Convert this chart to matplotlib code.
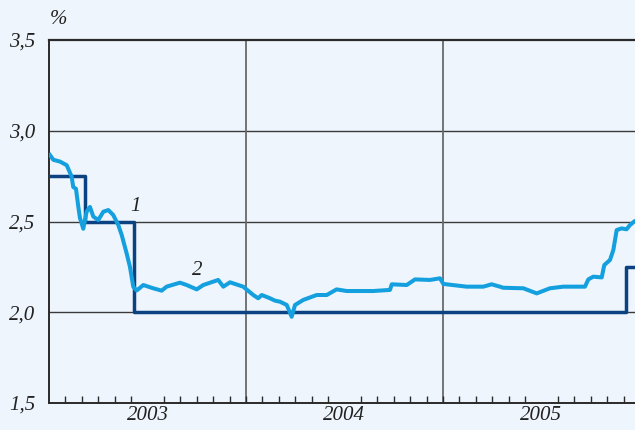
import matplotlib
matplotlib.use("Agg")
import matplotlib.pyplot as plt
import numpy as np

# Series 1: key rate (step), change dates as decimal years
rate_dates = [2003.0, 2003.185, 2003.43, 2005.93, 2005.975]
rate_values = [2.75, 2.50, 2.00, 2.25, 2.25]

# Series 2: market rate
mkt_dates = [2003.005, 2003.022, 2003.056, 2003.090, 2003.115, 2003.123, 2003.137,
             2003.149, 2003.157, 2003.174, 2003.191, 2003.208, 2003.225, 2003.250,
             2003.276, 2003.301, 2003.326, 2003.352, 2003.369, 2003.394, 2003.411,
             2003.428, 2003.445, 2003.479, 2003.529, 2003.572, 2003.597, 2003.665,
             2003.699, 2003.750, 2003.783, 2003.859, 2003.885, 2003.919, 2003.986,
             2004.037, 2004.062, 2004.080, 2004.122, 2004.147, 2004.173, 2004.207,
             2004.232, 2004.249, 2004.291, 2004.359, 2004.410, 2004.460, 2004.511,
             2004.528, 2004.646, 2004.731, 2004.740, 2004.816, 2004.858, 2004.934,
             2004.985, 2005.002, 2005.120, 2005.205, 2005.247, 2005.289, 2005.306,
             2005.408, 2005.476, 2005.543, 2005.611, 2005.721, 2005.738, 2005.763,
             2005.806, 2005.819, 2005.848, 2005.865, 2005.882, 2005.907, 2005.932,
             2005.949, 2005.970]
mkt_values = [2.866, 2.84, 2.83, 2.81, 2.747, 2.69, 2.68,
              2.58, 2.52, 2.46, 2.554, 2.58, 2.527, 2.508,
              2.554, 2.563, 2.536, 2.48, 2.426, 2.325, 2.25,
              2.14, 2.12, 2.15, 2.132, 2.119, 2.141, 2.163,
              2.15, 2.126, 2.15, 2.178, 2.141, 2.165, 2.141,
              2.095, 2.077, 2.095, 2.077, 2.064, 2.058, 2.04,
              1.975, 2.04, 2.068, 2.095, 2.095, 2.126, 2.117,
              2.117, 2.117, 2.123, 2.154, 2.15, 2.181, 2.178,
              2.187, 2.156, 2.141, 2.141, 2.154, 2.141, 2.135,
              2.132, 2.104, 2.132, 2.141, 2.141, 2.181, 2.196,
              2.192, 2.26, 2.288, 2.343, 2.453, 2.462, 2.457,
              2.48, 2.499]

year_labels = ["2003", "2004", "2005"]
y_ticks = [1.5, 2.0, 2.5, 3.0, 3.5]
y_ticklabels = ["1,5", "2,0", "2,5", "3,0", "3,5"]

bg = "#eef5fc"
fig = plt.figure(figsize=(6.35, 4.30), dpi=100, facecolor=bg)
ax = fig.add_axes([49/635, 1-403/430, 1-49/635, (403-40)/430])
ax.set_facecolor(bg)

serif = "Liberation Serif"
fs = 15

ax.set_xlim(2003.0, 2005.975)
ax.set_ylim(1.5, 3.5)

# grid lines
for v in [2.0, 2.5, 3.0]:
    ax.axhline(v, color="#3a3a3a", lw=1.0, zorder=1)
for yr in [2004, 2005]:
    ax.axvline(yr, color="#6a6a6a", lw=1.3, zorder=1)

ax.step(rate_dates, rate_values, where="post", color="#0a4282", lw=2.5, zorder=3)
ax.plot(mkt_dates, mkt_values, color="#14a0de", lw=2.9, zorder=4,
        solid_joinstyle="round")

ax.text(2003.44, 2.585, "1", fontsize=fs, fontstyle="italic", family=serif,
        color="#222222", ha="center", va="center")
ax.text(2003.755, 2.23, "2", fontsize=fs, fontstyle="italic", family=serif,
        color="#222222", ha="center", va="center")

# spines
ax.spines["right"].set_visible(False)
ax.spines["top"].set_color("#2a2a2a")
ax.spines["top"].set_linewidth(1.6)
ax.spines["left"].set_color("#2a2a2a")
ax.spines["left"].set_linewidth(1.4)
ax.spines["bottom"].set_color("#2a2a2a")
ax.spines["bottom"].set_linewidth(1.4)

ax.set_yticks(y_ticks)
ax.set_yticklabels(y_ticklabels, fontsize=fs, fontstyle="italic", family=serif,
                   color="#222222")
ax.tick_params(axis="y", length=0, pad=10)

# month minor ticks
months = [2003 + i/12 for i in range(1, 36)]
ax.set_xticks(months, minor=True)
ax.tick_params(axis="x", which="minor", direction="in", length=5, width=1,
               color="#2a2a2a")
ax.set_xticks([2003.5, 2004.5, 2005.5])
ax.set_xticklabels(year_labels, fontsize=fs, fontstyle="italic", family=serif,
                   color="#222222")
ax.tick_params(axis="x", which="major", length=0, pad=2)

fig.text(50/635, 1-20/430, "%", fontsize=fs, fontstyle="italic", family=serif,
         color="#222222", ha="left", va="center")

fig.savefig("out.png", dpi=100, facecolor=bg)
